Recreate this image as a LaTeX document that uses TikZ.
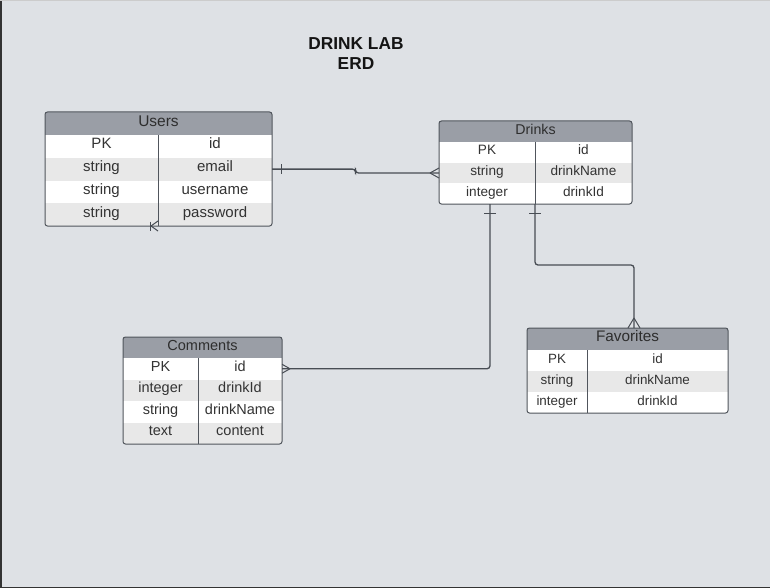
\documentclass[tikz,border=0pt]{standalone}
\usepackage{fontspec}
\setmainfont{Liberation Sans}
\usetikzlibrary{positioning,calc}
\definecolor{paper}{HTML}{DEE1E5}
\definecolor{hdrgray}{HTML}{9A9EA6}
\definecolor{rowgray}{HTML}{E8E8E8}
\definecolor{edge}{HTML}{50555C}
\definecolor{ink}{HTML}{333333}
\definecolor{wire}{HTML}{484D54}

\tikzset{
  cell/.style 2 args={anchor=north west, inner sep=0pt, outer sep=0pt,
    minimum width=#1, minimum height=#2, text=ink, text height=0.72em, text depth=0.2em},
  whiterow/.style={fill=white},
  grayrow/.style={fill=rowgray},
  head/.style={fill=hdrgray, text=ink!90!black},
  frame/.style={draw=edge, line width=1pt, rounded corners=2.5pt},
  divider/.style={draw=edge, line width=1pt},
  rel/.style={draw=wire, line width=1.3pt, rounded corners=3pt},
  tickmark/.style={draw=wire, line width=1pt},
}

\begin{document}
\begin{tikzpicture}[x=1pt,y=-1pt]
    \fill[paper] (0,0) rectangle (770,588);
    \useasboundingbox (0,0) rectangle (770,588);
    \draw[black!80, line width=1.5pt] (0.75,0) -- (0.75,587.25) -- (770,587.25);
    \draw[black!20, line width=0.8pt] (0,0.4) -- (770,0.4);

    \node[font=\bfseries\fontsize{17.3}{20}\selectfont, align=center, text=black!92] (title) at (356,54) {DRINK LAB\\ERD};

    \begin{scope}[font=\fontsize{15}{17}\selectfont]
    \node[cell={227}{23}, head, font=\fontsize{15.5}{17}\selectfont] (users) at (45,112) {Users};
    \node[cell={113}{22.75}, whiterow] (u1a) at (users.south west) {PK};
    \node[cell={114}{22.75}, whiterow] (u1b) at (u1a.north east) {id};
    \node[cell={113}{22.75}, grayrow] (u2a) at (u1a.south west) {string};
    \node[cell={114}{22.75}, grayrow] (u2b) at (u2a.north east) {email};
    \node[cell={113}{22.75}, whiterow] (u3a) at (u2a.south west) {string};
    \node[cell={114}{22.75}, whiterow] (u3b) at (u3a.north east) {username};
    \node[cell={113}{22.75}, grayrow] (u4a) at (u3a.south west) {string};
    \node[cell={114}{22.75}, grayrow] (u4b) at (u4a.north east) {password};
    \draw[divider] (u1a.north east) -- (u4a.south east);
    \draw[frame] (users.north west) rectangle (u4b.south east);
    \end{scope}

    \begin{scope}[font=\fontsize{13.6}{16}\selectfont]
    \node[cell={193}{21}, head, font=\fontsize{14.2}{16}\selectfont] (drinks) at (439,121) {Drinks};
    \node[cell={96}{20.67}, whiterow] (d1a) at (drinks.south west) {PK};
    \node[cell={97}{20.67}, whiterow] (d1b) at (d1a.north east) {id};
    \node[cell={96}{20.67}, grayrow] (d2a) at (d1a.south west) {string};
    \node[cell={97}{20.67}, grayrow] (d2b) at (d2a.north east) {drinkName};
    \node[cell={96}{20.67}, whiterow] (d3a) at (d2a.south west) {integer};
    \node[cell={97}{20.67}, whiterow] (d3b) at (d3a.north east) {drinkId};
    \draw[divider] (d1a.north east) -- (d3a.south east);
    \draw[frame] (drinks.north west) rectangle (d3b.south east);
    \end{scope}

    \begin{scope}[font=\fontsize{14.5}{17}\selectfont]
    \node[cell={159}{21}, head] (comments) at (123,337) {Comments};
    \node[cell={75}{21.5}, whiterow] (c1a) at (comments.south west) {PK};
    \node[cell={84}{21.5}, whiterow] (c1b) at (c1a.north east) {id};
    \node[cell={75}{21.5}, grayrow] (c2a) at (c1a.south west) {integer};
    \node[cell={84}{21.5}, grayrow] (c2b) at (c2a.north east) {drinkId};
    \node[cell={75}{21.5}, whiterow] (c3a) at (c2a.south west) {string};
    \node[cell={84}{21.5}, whiterow] (c3b) at (c3a.north east) {drinkName};
    \node[cell={75}{21.5}, grayrow] (c4a) at (c3a.south west) {text};
    \node[cell={84}{21.5}, grayrow] (c4b) at (c4a.north east) {content};
    \draw[divider] (c1a.north east) -- (c4a.south east);
    \draw[frame] (comments.north west) rectangle (c4b.south east);
    \end{scope}

    \begin{scope}[font=\fontsize{13.4}{16}\selectfont]
    \node[cell={201}{22}, head, font=\fontsize{15.3}{17}\selectfont] (favorites) at (527,328) {Favorites};
    \node[cell={60}{21}, whiterow] (f1a) at (favorites.south west) {PK};
    \node[cell={141}{21}, whiterow] (f1b) at (f1a.north east) {id};
    \node[cell={60}{21}, grayrow] (f2a) at (f1a.south west) {string};
    \node[cell={141}{21}, grayrow] (f2b) at (f2a.north east) {drinkName};
    \node[cell={60}{21}, whiterow] (f3a) at (f2a.south west) {integer};
    \node[cell={141}{21}, whiterow] (f3b) at (f3a.north east) {drinkId};
    \draw[divider] (f1a.north east) -- (f3a.south east);
    \draw[frame] (favorites.north west) rectangle (f3b.south east);
    \end{scope}

    \draw[tickmark] ($(u4a.south east)+(-8,-4.5)$) -- ++(0,9);
    \draw[tickmark] ($(u4a.south east)+(-7,0)$) -- ++(7,-5);
    \draw[tickmark] ($(u4a.south east)+(-7,0)$) -- ++(7,5);

    \draw[rel] (u2b.east) -| ($(u2b.east)!0.5!(d2a.west)$) |- (d2a.west);
    \draw[tickmark] ([xshift=9pt]u2b.east) ++(0,-5) -- ++(0,10);
    \draw[tickmark] ([xshift=-9pt]d2a.west) -- ([yshift=5pt]d2a.west);
    \draw[tickmark] ([xshift=-9pt]d2a.west) -- ([yshift=-5pt]d2a.west);

    \draw[rel] ([xshift=3pt]d3a.south) |- (c1b.east);
    \draw[tickmark] ([xshift=3pt,yshift=-9pt]d3a.south) ++(-6,0) -- ++(12,0);
    \draw[tickmark] ([xshift=8pt]c1b.east) -- ([yshift=4.5pt]c1b.east);
    \draw[tickmark] ([xshift=8pt]c1b.east) -- ([yshift=-4.5pt]c1b.east);

    \draw[rel] (d3a.south east) -- ++(0,61) -| ([xshift=6.5pt]favorites.north);
    \draw[tickmark] ([yshift=-9pt]d3a.south east) ++(-6,0) -- ++(12,0);
    \draw[tickmark] ([xshift=6.5pt,yshift=10pt]favorites.north) -- ([xshift=0.5pt]favorites.north);
    \draw[tickmark] ([xshift=6.5pt,yshift=10pt]favorites.north) -- ([xshift=12.5pt]favorites.north);
\end{tikzpicture}
\end{document}
